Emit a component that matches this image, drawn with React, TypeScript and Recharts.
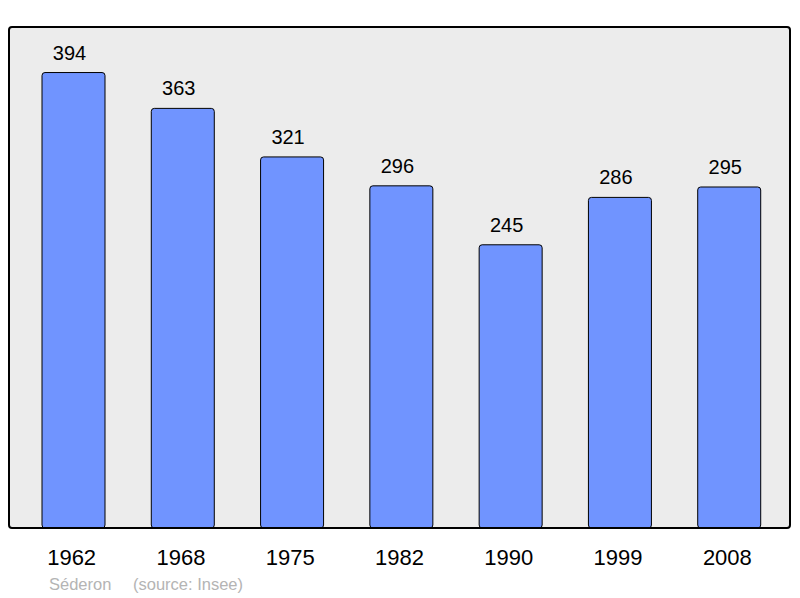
import React from "react";
import { BarChart, Bar, XAxis, YAxis, CartesianGrid, LabelList } from "recharts";

const ANNEES = ["1962", "1968", "1975", "1982", "1990", "1999", "2008"];
const POPULATION = [394, 363, 321, 296, 245, 286, 295];
const COMMUNE = "Séderon";
const SOURCE = "(source: Insee)";

const Y_MAX = Math.max(...POPULATION) * 1.1;
const FONTE = '"Liberation Sans", Arial, sans-serif';

const dados = ANNEES.map((annee, i) => ({ annee, pop: POPULATION[i] }));

const legenda: React.CSSProperties = {
  position: "absolute",
  top: 576,
  fontSize: 16.5,
  lineHeight: "16px",
  color: "#b4b4b4",
};

export default function App() {
  return (
    <div style={{ position: "absolute", left: 0, top: 0, width: 800, height: 598, fontFamily: FONTE }}>
      <BarChart width={800} height={598} data={dados} margin={{ top: 27, right: 10, bottom: 30, left: 9 }}>
        <CartesianGrid fill="#ececec" horizontal={false} vertical={false} />
        <XAxis
          dataKey="annee"
          height={40}
          axisLine={false}
          tickLine={false}
          tickSize={0}
          tickMargin={21}
          padding={{ left: 10, right: 6 }}
          tick={{ fontSize: 22, fill: "#000", fontFamily: FONTE, dx: -2 }}
        />
        <YAxis hide domain={[0, Y_MAX]} />
        <Bar dataKey="pop" fill="#7094ff" stroke="#000" strokeWidth={1} barSize={63} radius={3} isAnimationActive={false}>
          <LabelList dataKey="pop" position="top" offset={13} dx={-4} style={{ fontSize: 20, fill: "#000", fontFamily: FONTE }} />
        </Bar>
      </BarChart>
      {/* moldura da área do gráfico */}
      <div
        style={{
          position: "absolute",
          left: 8,
          top: 26,
          width: 783,
          height: 503,
          boxSizing: "border-box",
          border: "2px solid #000",
          borderRadius: 4,
          pointerEvents: "none",
        }}
      />
      <span style={{ ...legenda, left: 49 }}>{COMMUNE}</span>
      <span style={{ ...legenda, left: 133 }}>{SOURCE}</span>
    </div>
  );
}
